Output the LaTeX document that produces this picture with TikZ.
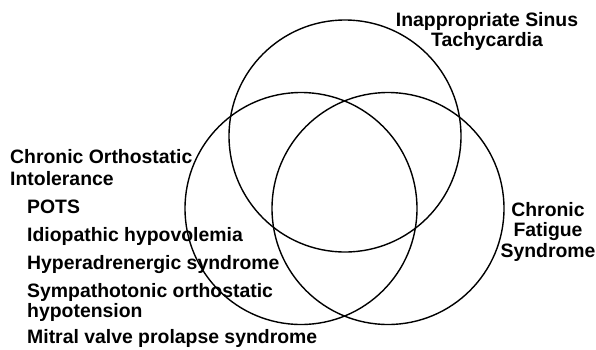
\documentclass[tikz,border=0pt]{standalone}
\usepackage{fontspec}
\setmainfont{Liberation Sans}
\begin{document}
\begin{tikzpicture}[x=1pt,y=-1pt,
  venn/.style={circle,draw=black,line width=1.4pt,minimum size=232pt,inner sep=0pt},
  lbl/.style={inner sep=0pt,font=\fontsize{19.4}{21}\selectfont\bfseries},
  lw/.style={lbl,anchor=base west},
  lc/.style={lbl,anchor=base}]
\useasboundingbox (0,0) rectangle (596,349);
\node[venn] (ist) at (345,136) {};
\node[venn] (coi) at (301,208.5) {};
\node[venn] (cfs) at (388,208.5) {};
% top label
\node[lc] (ist1) at (487,26.7) {Inappropriate Sinus};
\node[lc] (ist2) at (487,46.7) {Tachycardia};
% right label
\node[lc] (cfs1) at (548,216) {Chronic};
\node[lc] (cfs2) at (548,236.5) {Fatigue};
\node[lc] (cfs3) at (548,257) {Syndrome};
% left label
\node[lw] (coi1) at (10,163) {Chronic Orthostatic};
\node[lw] (coi2) at (10,185) {Intolerance};
\node[lw] (pots) at (27,213) {POTS};
\node[lw] (idio) at (27,241) {Idiopathic hypovolemia};
\node[lw] (hyper) at (27,269) {Hyperadrenergic syndrome};
\node[lw] (symp1) at (27,297) {Sympathotonic orthostatic};
\node[lw] (symp2) at (27,317) {hypotension};
\node[lw] (mvp) at (27,343) {Mitral valve prolapse syndrome};
\end{tikzpicture}
\end{document}
